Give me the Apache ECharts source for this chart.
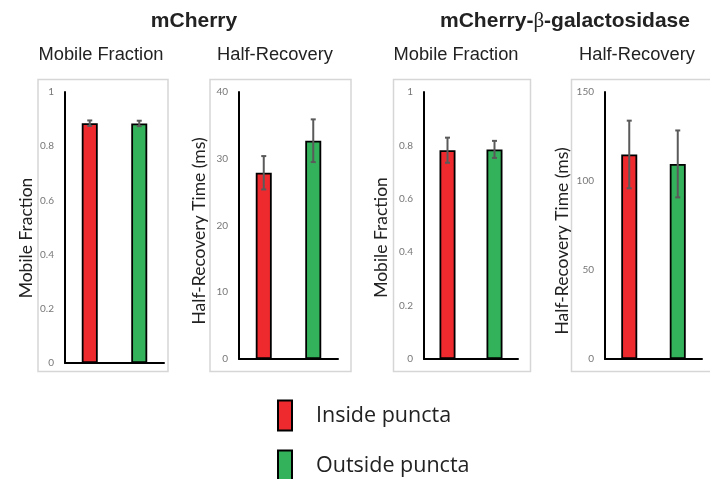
<!DOCTYPE html>
<html>
<head>
<meta charset="utf-8">
<script src="https://cdn.jsdelivr.net/npm/echarts@6/dist/echarts.min.js"></script>
<style>
  html, body { margin: 0; padding: 0; background: #fff; }
  #chart { width: 710px; height: 479px; }
</style>
</head>
<body>
<div id="chart"></div>
<script>
// Conditions compared in every panel
const categories = ['Inside puncta', 'Outside puncta'];

// mCherry
const mcMobile = [0.885, 0.884];
const mcMobileErr = [0.010, 0.010];
const mcHalf = [27.9, 32.7];
const mcHalfErr = [2.5, 3.2];

// mCherry-β-galactosidase
const bgMobile = [0.782, 0.785];
const bgMobileErr = [0.047, 0.032];
const bgHalf = [114.9, 109.6];
const bgHalfErr = [19.0, 18.8];

// Axis ranges and tick steps per panel
const axisMax = [1, 40, 1, 150];
const axisStep = [0.2, 10, 0.2, 50];

const panelTitles = ['Mobile Fraction', 'Half-Recovery', 'Mobile Fraction', 'Half-Recovery'];
const axisNames = ['Mobile Fraction', 'Half-Recovery Time (ms)', 'Mobile Fraction', 'Half-Recovery Time (ms)'];

const RED = '#ee2a2f';
const GREEN = '#34b25b';
const AXIS_FONT = 'Lato';

// namePad shifts each rotated axis title a little below the plot middle
const panels = [
  { values: mcMobile, errs: mcMobileErr, grid: { left: 65, top: 92, width: 99, height: 271 }, box: [38, 79.5, 130, 292], titleX: 101, nameGap: 30, namePad: 21 },
  { values: mcHalf, errs: mcHalfErr, grid: { left: 239, top: 92, width: 99, height: 267 }, box: [210, 79.5, 141, 292], titleX: 275, nameGap: 31, namePad: 11 },
  { values: bgMobile, errs: bgMobileErr, grid: { left: 424, top: 92, width: 94, height: 267 }, box: [393.5, 79.5, 137, 292], titleX: 456, nameGap: 34, namePad: 24 },
  { values: bgHalf, errs: bgHalfErr, grid: { left: 605, top: 92, width: 97, height: 267 }, box: [571.5, 79.5, 150, 292], titleX: 637, nameGap: 34, namePad: 31 }
];

const grid = [], xAxis = [], yAxis = [], series = [], graphic = [];

panels.forEach((p, i) => {
  grid.push(p.grid);
  xAxis.push({
    type: 'category', gridIndex: i, data: categories,
    axisLine: { lineStyle: { color: '#000', width: 2 } },
    axisTick: { show: false }, axisLabel: { show: false }, splitLine: { show: false }
  });
  yAxis.push({
    type: 'value', gridIndex: i, min: 0, max: axisMax[i], interval: axisStep[i],
    name: axisNames[i], nameLocation: 'middle', nameGap: p.nameGap,
    nameTextStyle: { fontFamily: AXIS_FONT, fontSize: 17.5, color: '#222', padding: [0, p.namePad, 0, 0] },
    axisLine: { show: true, lineStyle: { color: '#000', width: 2 } },
    axisTick: { show: false }, splitLine: { show: false },
    axisLabel: { fontFamily: AXIS_FONT, fontSize: 10, color: '#777', margin: 11 }
  });
  categories.forEach((name, k) => {
    series.push({
      type: 'bar', name: name, xAxisIndex: i, yAxisIndex: i,
      barWidth: 16, barGap: '-100%',
      data: p.values.map((v, j) => (j === k ? v : '-')),
      itemStyle: { color: k === 0 ? RED : GREEN, borderColor: '#000', borderWidth: 1.8 },
      emphasis: { disabled: true }
    });
  });
  series.push({
    type: 'custom', name: 'err' + i, xAxisIndex: i, yAxisIndex: i, z: 5,
    data: p.values.map((v, j) => [j, v - p.errs[j], v + p.errs[j]]),
    renderItem: function (params, api) {
      const lo = api.coord([api.value(0), api.value(1)]);
      const hi = api.coord([api.value(0), api.value(2)]);
      const style = { stroke: '#5a5a5a', lineWidth: 2 };
      const cap = 2.5;
      return {
        type: 'group',
        children: [
          { type: 'line', shape: { x1: lo[0], y1: lo[1], x2: hi[0], y2: hi[1] }, style },
          { type: 'line', shape: { x1: lo[0] - cap, y1: lo[1], x2: lo[0] + cap, y2: lo[1] }, style },
          { type: 'line', shape: { x1: hi[0] - cap, y1: hi[1], x2: hi[0] + cap, y2: hi[1] }, style }
        ]
      };
    }
  });
  graphic.push({
    type: 'rect', z: -1, silent: true,
    shape: { x: p.box[0], y: p.box[1], width: p.box[2], height: p.box[3] },
    style: { fill: 'none', stroke: '#d6d6d6', lineWidth: 1.5 }
  });
  graphic.push({
    type: 'text', x: p.titleX, y: 55, silent: true,
    style: { text: panelTitles[i], font: '18.3px "Liberation Sans"', fill: '#222', align: 'center', verticalAlign: 'middle' }
  });
});

// Construct titles
graphic.push({
  type: 'text', x: 194, y: 21, silent: true,
  style: { text: 'mCherry', font: 'bold 21px "Liberation Sans"', fill: '#222', align: 'center', verticalAlign: 'middle' }
});
graphic.push({
  type: 'text', x: 565, y: 21, silent: true,
  style: {
    text: '{b|mCherry-}{g|β}{b|-galactosidase}',
    align: 'center', verticalAlign: 'middle',
    rich: {
      b: { font: 'bold 21px "Liberation Sans"', fill: '#222' },
      g: { font: '21px "Liberation Serif"', fill: '#222' }
    }
  }
});

// One stacked legend entry per condition
const legendColors = [RED, GREEN];
const legendTops = [399.5, 449.5];
const legend = categories.map((name, k) => ({
  orient: 'vertical', left: 277, top: legendTops[k], padding: 0,
  itemWidth: 14, itemHeight: 30, icon: 'rect', selectedMode: false,
  data: [{ name: name, itemStyle: { color: legendColors[k], borderColor: '#000', borderWidth: 2 } }],
  textStyle: { fontFamily: 'Open Sans', fontSize: 21.5, color: '#222', padding: [0, 0, 0, 19] }
}));

const option = {
  animation: false,
  backgroundColor: '#fff',
  grid, xAxis, yAxis, series, graphic, legend
};

const chart = echarts.init(document.getElementById('chart'), null, { renderer: 'canvas' });
chart.setOption(option);
</script>
</body>
</html>
